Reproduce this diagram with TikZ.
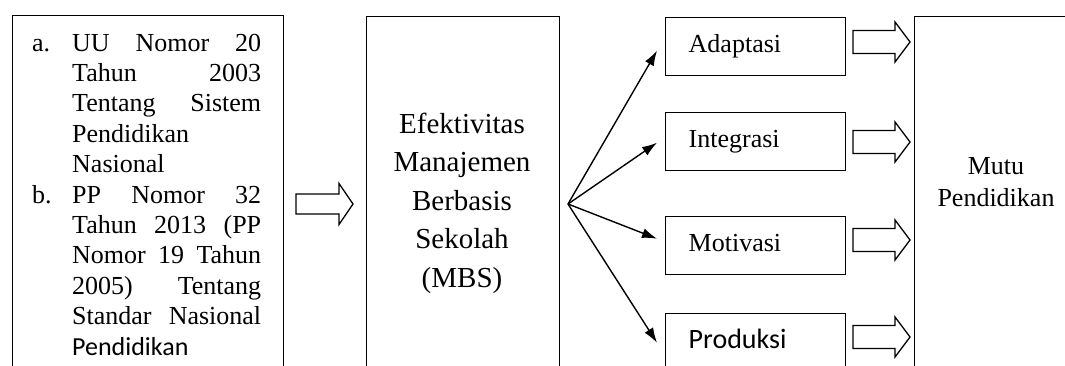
\documentclass[tikz,border=0pt]{standalone}
\usepackage{fontspec}
\setmainfont{Liberation Serif}
\newfontfamily\carl{Carlito}
\usetikzlibrary{arrows.meta}
\begin{document}
\begin{tikzpicture}[x=1pt,y=-1pt,
  box/.style={draw, line width=1.4pt, rectangle, inner sep=0pt, anchor=north west},
  item/.style={box, minimum width=180pt, minimum height=58pt, text width=134pt,
    inner xsep=23pt, inner ysep=0pt, align=left, text height=18pt, text depth=6pt,
    font=\fontsize{26}{30}\selectfont},
  fan/.style={line width=1.4pt, -{Latex[length=15pt,width=10pt]}},
  hollow/.style={draw, line width=1.3pt, line join=miter, fill=white},
  pics/rarrow/.style={code={\draw[hollow] (-28.5,-11.5) -- (13.5,-11.5) -- (13.5,-20) -- (28.5,0) -- (13.5,20) -- (13.5,11.5) -- (-28.5,11.5) -- cycle;}},
  pics/larrow/.style={code={\draw[hollow] (-28.5,-10) -- (14.5,-10) -- (14.5,-20.5) -- (28.5,0) -- (14.5,20.5) -- (14.5,10) -- (-28.5,10) -- cycle;}}
]
\useasboundingbox (0,0) rectangle (1065,365);
\clip (0,0) rectangle (1065,365);
% big boxes
\node[box, minimum width=271pt, minimum height=420pt] (lb) at (12,15) {};
\node[box, minimum width=193pt, minimum height=420pt] (cb) at (366,16) {};
\node[box, minimum width=200pt, minimum height=420pt] (rb) at (914,16) {};
% left text
\node[anchor=base west, inner sep=0pt] (lt) at (32,51) {\parbox[t]{240pt}{\fontsize{26}{30.4}\selectfont
\makebox[40pt][l]{a.}\makebox[189pt][s]{UU Nomor 20}\\
\hspace*{40pt}\makebox[189pt][s]{Tahun 2003}\\
\hspace*{40pt}\makebox[189pt][s]{Tentang Sistem}\\
\hspace*{40pt}Pendidikan\\
\hspace*{40pt}Nasional\\
\makebox[40pt][l]{b.}\makebox[189pt][s]{PP Nomor 32}\\
\hspace*{40pt}\makebox[189pt][s]{Tahun 2013 (PP}\\
\hspace*{40pt}\makebox[189pt][s]{Nomor 19 Tahun}\\
\hspace*{40pt}\makebox[189pt][s]{2005) Tentang}\\
\hspace*{40pt}\makebox[189pt][s]{Standar Nasional}\\
\hspace*{40pt}{\carl Pendidikan}}};
% center text
\node[anchor=base, inner sep=0pt] (ct) at (462,133) {\parbox[t]{190pt}{\centering\fontsize{29}{38.5}\selectfont
Efektivitas\\Manajemen\\Berbasis\\Sekolah\\(MBS)}};
% right text
\node[anchor=base, inner sep=0pt] (rt) at (996,174) {\parbox[t]{140pt}{\centering\fontsize{26}{32}\selectfont
Mutu\\Pendidikan}};
% items
\node[item] (ad) at (665,17) {Adaptasi};
\node[item] (in) at (665,112) {Integrasi};
\node[item] (mo) at (665,216) {Motivasi};
\node[item, font=\carl\fontsize{28}{30}\selectfont] (pr) at (665,313) {Produksi};
% hollow arrows
\pic at (324.5,204) {larrow};
\pic at (881.5,42) {rarrow};
\pic at (881.5,142) {rarrow};
\pic at (881.5,240) {rarrow};
\pic at (881.5,337) {rarrow};
% fan arrows
\coordinate (fo) at (568,204);
\draw[fan] (fo) -- ([xshift=-8pt,yshift=-4pt]ad.west);
\draw[fan] (fo) -- ([xshift=-8pt,yshift=-1pt]in.west);
\draw[fan] (fo) -- ([xshift=-8pt,yshift=7pt]mo.west);
\draw[fan] (fo) -- ([xshift=-8pt]pr.west);
\end{tikzpicture}
\end{document}
